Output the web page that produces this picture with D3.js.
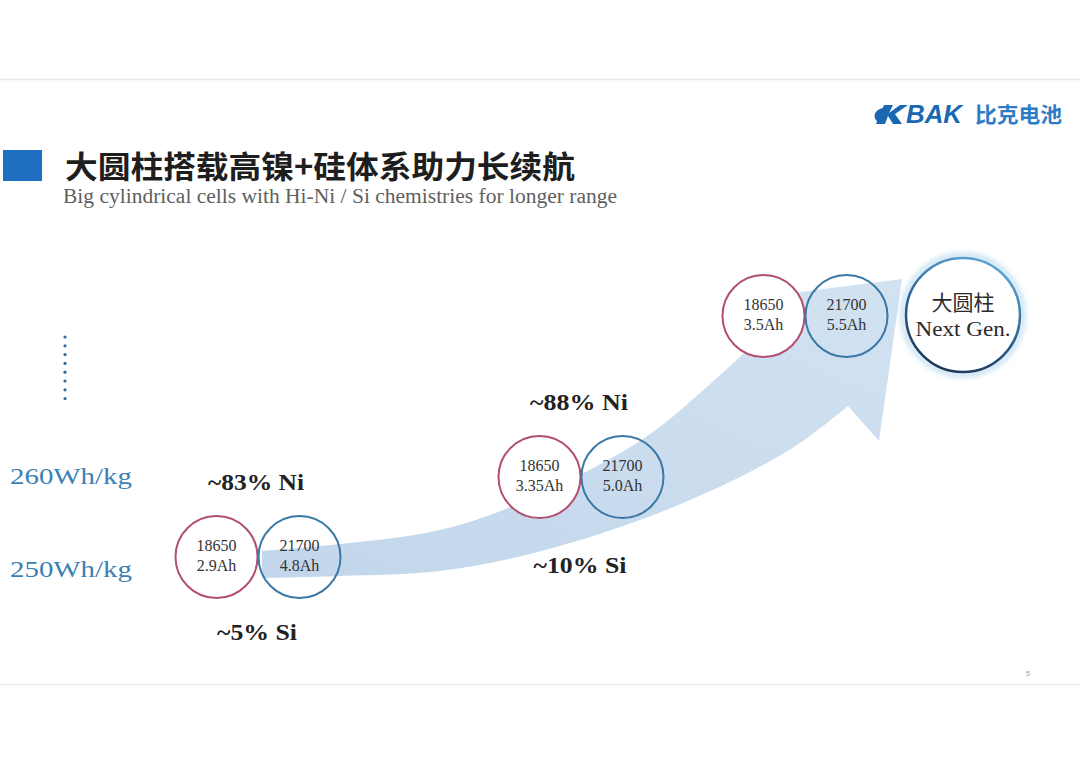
<!DOCTYPE html>
<html>
<head>
<meta charset="utf-8">
<script src="https://cdn.jsdelivr.net/npm/d3@7/dist/d3.min.js"></script>
<style>
  html, body { margin: 0; padding: 0; background: #ffffff; }
  svg { display: block; }
</style>
</head>
<body>
<svg id="chart" width="1080" height="764"></svg>
<script>
// ---------------- DATA ----------------
const stages = ["Gen 1", "Gen 2", "Gen 3"];
const cellTypes = ["18650", "21700"];
const cap18650 = ["2.9Ah", "3.35Ah", "3.5Ah"];
const cap21700 = ["4.8Ah", "5.0Ah", "5.5Ah"];
const niLabels = ["~83% Ni", "~88% Ni"];
const siLabels = ["~5% Si", "~10% Si"];
const energyLabels = ["260Wh/kg", "250Wh/kg"];
const nextGenLines = ["大圆柱", "Next Gen."];
const titleCN = "大圆柱搭载高镍+硅体系助力长续航";
const titleEN = "Big cylindrical cells with Hi-Ni / Si chemistries for longer range";

// ---------------- LAYOUT ----------------
const svg = d3.select("#chart");
const W = 1080, H = 764;

const xStage = d3.scaleOrdinal(stages, [258, 581, 805]);
const yStage = d3.scaleOrdinal(stages, [557, 477, 316]);
const xCell = d3.scaleOrdinal(cellTypes, [-41.5, 41.5]);
const cellR = 41;
const yEnergy = d3.scaleOrdinal(energyLabels, [484, 577]);

// arrow outline geometry (decorative shape)
const arrowTop = [[262, 551], [340, 544], [440, 530], [520, 503], [640, 441], [700, 393], [760, 337], [800, 292]];
const arrowHead = [[902, 279], [879, 441], [848, 406]];
const arrowBottom = [[848, 406], [800, 443], [740, 477], [640, 520], [530, 554], [440, 571], [340, 576], [262, 578]];

const defs = svg.append("defs");

// background
svg.append("rect").attr("width", W).attr("height", H).attr("fill", "#ffffff");
svg.append("line").attr("x1", 0).attr("x2", W).attr("y1", 79.5).attr("y2", 79.5)
  .attr("stroke", "#e6e8ea").attr("stroke-width", 1.5);
svg.append("line").attr("x1", 0).attr("x2", W).attr("y1", 684.5).attr("y2", 684.5)
  .attr("stroke", "#eceeef").attr("stroke-width", 1.5);
svg.append("text").attr("x", 1028).attr("y", 676).attr("font-size", 7)
  .attr("font-family", "Liberation Sans").attr("fill", "#999").attr("text-anchor", "middle").text("5");

// ---------------- LOGO ----------------
const logo = svg.append("g");
logo.append("path")
  .attr("d", "M884,105 L893,105 L889,113 L900,105 L908,105 L895,114 L902,124 L893,124 L888,116 L885,124 L876,124 Z")
  .attr("fill", "#1a68b3");
logo.append("path").attr("d", "M883,108 C872,110 872,122 882,123 L884,118 C879,118 879,113 885,112 Z").attr("fill", "#1a68b3");
logo.append("text").attr("x", 906).attr("y", 123)
  .attr("font-family", "Liberation Sans, Arial").attr("font-weight", "bold").attr("font-style", "italic")
  .attr("font-size", 25).attr("fill", "#1a68b3").attr("textLength", 56).attr("lengthAdjust", "spacingAndGlyphs").text("BAK");
logo.append("text").attr("x", 975).attr("y", 122)
  .attr("font-family", "Noto Sans CJK SC").attr("font-weight", "bold")
  .attr("font-size", 21).attr("fill", "#2f7cc6").attr("textLength", 87).attr("lengthAdjust", "spacingAndGlyphs").text("比克电池");

// ---------------- TITLE ----------------
svg.append("rect").attr("x", 3).attr("y", 150).attr("width", 39).attr("height", 31).attr("fill", "#1c6fc1");
svg.append("text").attr("x", 65).attr("y", 178)
  .attr("font-family", "Noto Sans CJK SC").attr("font-weight", "bold").attr("font-size", 31)
  .attr("fill", "#1e1e1e").attr("textLength", 510).attr("lengthAdjust", "spacingAndGlyphs").text(titleCN);
svg.append("text").attr("x", 63).attr("y", 203)
  .attr("font-family", "Liberation Serif").attr("font-size", 20)
  .attr("fill", "#606060").attr("textLength", 554).attr("lengthAdjust", "spacingAndGlyphs").text(titleEN);

// dotted vertical
svg.append("g").selectAll("circle").data(d3.range(8)).join("circle")
  .attr("cx", 65).attr("cy", d => 337 + d * 8.8).attr("r", 1.6).attr("fill", "#3a6890");

// energy density labels
svg.append("g").selectAll("text").data(energyLabels).join("text")
  .attr("x", 10).attr("y", d => yEnergy(d))
  .attr("font-family", "Liberation Serif").attr("font-size", 23)
  .attr("fill", "#3b7fb6").attr("textLength", 122).attr("lengthAdjust", "spacingAndGlyphs").text(d => d);

// ---------------- ARROW ----------------
const grad = defs.append("linearGradient").attr("id", "arrowGrad")
  .attr("x1", "0%").attr("y1", "100%").attr("x2", "100%").attr("y2", "0%");
grad.append("stop").attr("offset", "0%").attr("stop-color", "#c2d6eb");
grad.append("stop").attr("offset", "100%").attr("stop-color", "#d2e2f1");

const edge = d3.line().curve(d3.curveCatmullRom.alpha(0.5));
const topPath = edge(arrowTop);
const headPath = arrowHead.map(p => "L" + p[0] + "," + p[1]).join("");
const botPath = edge(arrowBottom).replace(/^M/, "L");
svg.append("path").attr("d", topPath + headPath + botPath + "Z").attr("fill", "url(#arrowGrad)");

// ---------------- CELLS ----------------
const cellData = [];
stages.forEach((s, i) => {
  cellData.push({ stage: s, type: "18650", cap: cap18650[i] });
  cellData.push({ stage: s, type: "21700", cap: cap21700[i] });
});

const cells = svg.append("g").selectAll("g").data(cellData).join("g")
  .attr("transform", d => `translate(${xStage(d.stage) + xCell(d.type)},${yStage(d.stage)})`);
cells.append("circle").attr("r", cellR)
  .attr("fill", d => d.type === "18650" ? "#ffffff" : "none")
  .attr("stroke", d => d.type === "18650" ? "#b24f70" : "#3a78a5")
  .attr("stroke-width", 2);
cells.append("text").attr("y", -6).attr("text-anchor", "middle")
  .attr("font-family", "Liberation Serif").attr("font-size", 16).attr("fill", "#333").text(d => d.type);
cells.append("text").attr("y", 14).attr("text-anchor", "middle")
  .attr("font-family", "Liberation Serif").attr("font-size", 16).attr("fill", "#333").text(d => d.cap);

// ---------------- NEXT GEN CIRCLE ----------------
const ng = svg.append("g").attr("transform", "translate(963,315)");
const blur = defs.append("filter").attr("id", "glow").attr("x", "-30%").attr("y", "-30%").attr("width", "160%").attr("height", "160%");
blur.append("feGaussianBlur").attr("stdDeviation", 2.5);
const ringGrad = defs.append("linearGradient").attr("id", "ringGrad")
  .attr("x1", "70%").attr("y1", "0%").attr("x2", "30%").attr("y2", "100%");
ringGrad.append("stop").attr("offset", "0%").attr("stop-color", "#5ea6d6");
ringGrad.append("stop").attr("offset", "55%").attr("stop-color", "#2d5f8e");
ringGrad.append("stop").attr("offset", "100%").attr("stop-color", "#1c3558");
ng.append("circle").attr("r", 60).attr("fill", "none").attr("stroke", "#c6e2f3")
  .attr("stroke-width", 5).attr("filter", "url(#glow)");
ng.append("circle").attr("r", 57).attr("fill", "#ffffff").attr("stroke", "url(#ringGrad)").attr("stroke-width", 2.5);
ng.append("text").attr("y", -5).attr("text-anchor", "middle")
  .attr("font-family", "Noto Sans CJK SC").attr("font-size", 21).attr("fill", "#2a2a2a").text(nextGenLines[0]);
ng.append("text").attr("y", 21).attr("text-anchor", "middle")
  .attr("font-family", "Liberation Serif").attr("font-size", 21).attr("fill", "#2a2a2a")
  .attr("textLength", 95).attr("lengthAdjust", "spacingAndGlyphs").text(nextGenLines[1]);

// ---------------- CHEMISTRY LABELS ----------------
const niY = d3.scaleOrdinal(stages.slice(0, 2), [490, 410]);
const siY = d3.scaleOrdinal(stages.slice(0, 2), [640, 573]);
const niLen = [96, 98], siLen = [80, 93];
svg.append("g").selectAll("text").data(niLabels).join("text")
  .attr("x", (d, i) => xStage(stages[i]) - 2).attr("y", (d, i) => niY(stages[i]))
  .attr("text-anchor", "middle").attr("font-family", "Liberation Serif").attr("font-weight", "bold")
  .attr("font-size", 24).attr("fill", "#222").attr("textLength", (d, i) => niLen[i])
  .attr("lengthAdjust", "spacingAndGlyphs").text(d => d);
svg.append("g").selectAll("text").data(siLabels).join("text")
  .attr("x", (d, i) => xStage(stages[i]) - 1).attr("y", (d, i) => siY(stages[i]))
  .attr("text-anchor", "middle").attr("font-family", "Liberation Serif").attr("font-weight", "bold")
  .attr("font-size", 24).attr("fill", "#222").attr("textLength", (d, i) => siLen[i])
  .attr("lengthAdjust", "spacingAndGlyphs").text(d => d);
</script>
</body>
</html>
